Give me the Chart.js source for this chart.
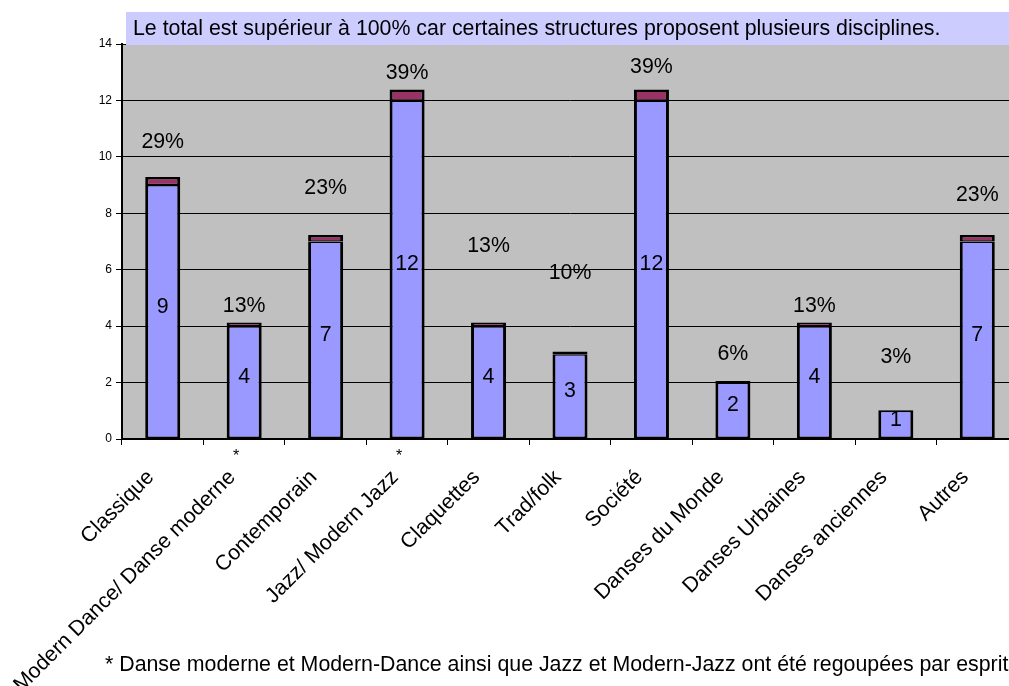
<!DOCTYPE html>
<html>
<head>
<meta charset="utf-8">
<script src="https://cdn.jsdelivr.net/npm/chart.js@4.4.0/dist/chart.umd.min.js"></script>
<style>
    html, body { margin: 0; padding: 0; background: #fff; overflow: hidden; }
    #wrap { width: 1009px; height: 686px; overflow: hidden; position: relative; }
    canvas { display: block; }
</style>
</head>
<body>
<div id="wrap"><canvas id="danseChart" width="1040" height="686"></canvas></div>
<script>
// données
const categories = [
    'Classique', 'Modern Dance/ Danse moderne', 'Contemporain', 'Jazz/ Modern Jazz',
    'Claquettes', 'Trad/folk', 'Société', 'Danses du Monde', 'Danses Urbaines',
    'Danses anciennes', 'Autres'
];
// catégories suivies d'un astérisque (voir la note en bas)
const starredCategories = ['Modern Dance/ Danse moderne', 'Jazz/ Modern Jazz'];
const structureCounts = [9, 4, 7, 12, 4, 3, 12, 2, 4, 1, 7];
const structureShare = [0.29, 0.13, 0.23, 0.39, 0.13, 0.10, 0.39, 0.06, 0.13, 0.03, 0.23];
const yTicks = [0, 2, 4, 6, 8, 10, 12, 14];

const bannerText = 'Le total est supérieur à 100% car certaines structures proposent plusieurs disciplines.';
const footnoteText = '* Danse moderne et Modern-Dance ainsi que Jazz et Modern-Jazz ont été regoupées par esprit';

// hauteur (en unités de l'axe) des étiquettes % au-dessus du haut de la barre, comme dans l'original
const pctLift = [1.24, 0.58, 1.67, 0.58, 2.71, 2.78, 0.8, 0.95, 0.58, 1.88, 1.42];

const FONT = '"Liberation Sans", Arial, sans-serif';
const TEXT_SIZE = 21.33;

const decorPlugin = {
    id: 'decor',
    beforeDraw(chart) {
        const { ctx, chartArea: a } = chart;
        ctx.save();
        ctx.fillStyle = '#C0C0C0';
        ctx.fillRect(a.left, a.top, a.right - a.left, a.bottom - a.top);
        ctx.restore();
    },
    afterDatasetsDraw(chart) {
        const { ctx } = chart;
        const yScale = chart.scales.y;
        const base = chart.getDatasetMeta(0).data;
        const tops = chart.getDatasetMeta(1).data;
        ctx.save();
        ctx.fillStyle = '#000';
        ctx.font = TEXT_SIZE + 'px ' + FONT;
        ctx.textAlign = 'center';
        ctx.textBaseline = 'middle';
        base.forEach((bar, i) => {
            const mid = (bar.y + bar.base) / 2;
            ctx.fillText(String(structureCounts[i]), bar.x, mid - 5);
            const total = structureCounts[i] + structureShare[i];
            const py = yScale.getPixelForValue(total + pctLift[i]);
            ctx.fillText(Math.round(structureShare[i] * 100) + '%', tops[i].x, py);
        });
        ctx.restore();
    },
    afterDraw(chart) {
        const { ctx, width } = chart;
        const xScale = chart.scales.x;
        ctx.save();
        // astérisques sous l'axe
        ctx.fillStyle = '#000';
        ctx.font = '16px ' + FONT;
        ctx.textAlign = 'center';
        ctx.textBaseline = 'middle';
        categories.forEach((c, i) => {
            if (starredCategories.includes(c)) {
                ctx.fillText('*', xScale.getPixelForValue(i) - 8, xScale.top + 18);
            }
        });
        // bandeau du haut
        ctx.fillStyle = '#CCCCFF';
        ctx.fillRect(126, 12, width - 126, 33);
        ctx.fillStyle = '#000';
        ctx.font = TEXT_SIZE + 'px ' + FONT;
        ctx.textAlign = 'left';
        ctx.fillText(bannerText, 133, 29);
        ctx.fillText(footnoteText, 105, 665);
        ctx.restore();
    }
};

new Chart(document.getElementById('danseChart'), {
    type: 'bar',
    data: {
        labels: categories,
        datasets: [{
            label: 'Nombre de structures',
            data: structureCounts,
            backgroundColor: '#9999FF',
            borderColor: '#000',
            borderWidth: { left: 3, right: 3, bottom: 2, top: 1.5 },
            borderSkipped: false
        }, {
            label: 'Part des structures',
            data: structureShare,
            backgroundColor: '#993366',
            borderColor: '#000',
            borderWidth: { left: 3, right: 3, bottom: 1.25, top: 2.5 },
            borderSkipped: false
        }]
    },
    options: {
        responsive: false,
        animation: false,
        devicePixelRatio: 1,
        layout: { padding: { top: 44, right: 22, bottom: 0, left: 0 } },
        plugins: {
            legend: { display: false },
            tooltip: { enabled: false }
        },
        datasets: {
            bar: { categoryPercentage: 1, barPercentage: 0.43 }
        },
        scales: {
            x: {
                stacked: true,
                offset: true,
                grid: {
                    offset: true,
                    drawOnChartArea: false,
                    drawTicks: true,
                    tickLength: 6,
                    color: '#000'
                },
                border: { color: '#000', width: 2 },
                ticks: {
                    autoSkip: false,
                    minRotation: 45,
                    maxRotation: 45,
                    padding: 20,
                    labelOffset: -12,
                    color: '#000',
                    font: { family: FONT, size: TEXT_SIZE }
                },
                afterFit(scale) { scale.height = 686 - 439; }
            },
            y: {
                stacked: true,
                min: 0,
                max: 14,
                afterBuildTicks(scale) { scale.ticks = yTicks.map(v => ({ value: v })); },
                grid: { color: '#000', lineWidth: 1, tickLength: 6 },
                border: { color: '#000', width: 2 },
                ticks: {
                    padding: 4,
                    color: '#000',
                    font: { family: FONT, size: 12 }
                },
                afterFit(scale) { scale.width = 122; }
            }
        }
    },
    plugins: [decorPlugin]
});
</script>
</body>
</html>
